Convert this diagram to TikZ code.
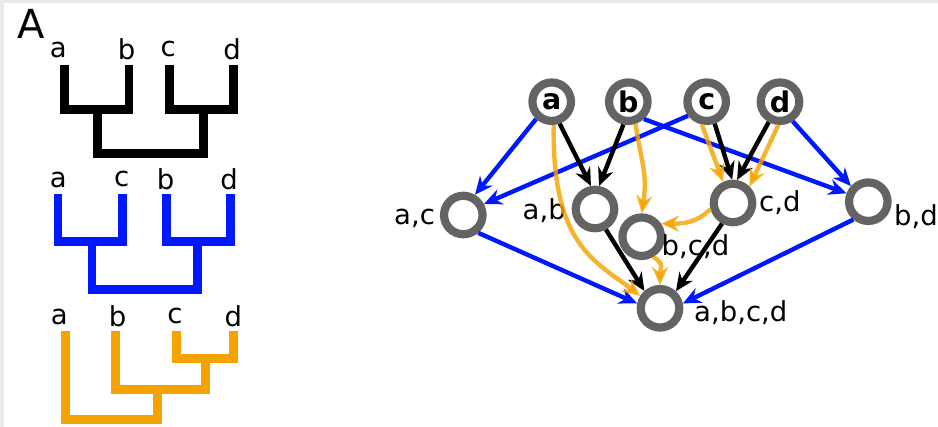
\documentclass[tikz,border=0pt]{standalone}
\usepackage{fontspec}
\setmainfont{DejaVu Sans}
\usetikzlibrary{arrows.meta}
\definecolor{myblue}{RGB}{0,24,255}
\definecolor{myorange}{RGB}{245,163,0}
\definecolor{ringgray}{RGB}{99,99,99}
\definecolor{framegray}{RGB}{233,235,239}
\begin{document}
\begin{tikzpicture}[x=1pt,y=-1pt,
  lbl/.style={font=\fontsize{27.5}{30}\selectfont, inner sep=0pt, anchor=base},
  tree/.style={line width=8.8pt, line join=miter, line cap=butt},
  vnode/.style={circle, draw=ringgray, line width=8.2pt, fill=white, minimum size=38.5pt, inner sep=0pt, font=\fontsize{28.5}{30}\selectfont\bfseries},
  edge/.style={line width=4.4pt, -{Stealth[length=18pt,width=16pt,inset=6pt]}},
  bl/.style={edge, draw=myblue},
  bk/.style={edge, draw=black},
  og/.style={edge, draw=myorange, opacity=0.82}]
\useasboundingbox (0,0) rectangle (938,427);
\fill[white] (0,0) rectangle (938,427);
\fill[framegray] (0,0) rectangle (938,3);
\fill[framegray] (0,0) rectangle (4,427);

% title
\node[font=\fontsize{40}{42}\selectfont, anchor=base west, inner sep=0pt] (title) at (17,38.3) {A};

% black dendrogram
\draw[tree, black] (64.2,65) -- (64.2,109.2) -- (129,109.2) -- (129,65);
\draw[tree, black] (169.2,65) -- (169.2,109.2) -- (233.7,109.2) -- (233.7,65);
\draw[tree, black] (97.5,109.2) -- (97.5,153.2) -- (203.3,153.2) -- (203.3,109.2);
\node[lbl] (k1) at (58.3,58) {a};
\node[lbl] (k2) at (126.7,60) {b};
\node[lbl] (k3) at (168.3,57) {c};
\node[lbl] (k4) at (232,60) {d};

% blue dendrogram
\draw[tree, myblue] (58,194.3) -- (58,241.5) -- (122.5,241.5) -- (122.5,194.3);
\draw[tree, myblue] (166.5,194.3) -- (166.5,241.5) -- (230.8,241.5) -- (230.8,194.3);
\draw[tree, myblue] (92,241.5) -- (92,289.2) -- (197.5,289.2) -- (197.5,241.5);
\node[lbl] (u1) at (58.3,187.3) {a};
\node[lbl] (u2) at (121.7,186.5) {c};
\node[lbl] (u3) at (165.7,189.3) {b};
\node[lbl] (u4) at (229,189.3) {d};

% orange dendrogram
\draw[tree, myorange] (176.5,331) -- (176.5,358.2) -- (233.8,358.2) -- (233.8,331);
\draw[tree, myorange] (115.5,331) -- (115.5,389.2) -- (205.8,389.2) -- (205.8,358.2);
\draw[tree, myorange] (65.8,331) -- (65.8,419.2) -- (157.5,419.2) -- (157.5,389.2);
\node[lbl] (o1) at (59.3,325) {a};
\node[lbl] (o2) at (117.5,326.7) {b};
\node[lbl] (o3) at (175,323.3) {c};
\node[lbl] (o4) at (233.3,326.7) {d};

% graph nodes
\node[vnode] (a) at (551.7,101.7) {a};
\node[vnode] (b) at (628.3,101.7) {b};
\node[vnode] (c) at (706.7,101.7) {c};
\node[vnode] (d) at (780,101.7) {d};
\node[vnode] (ac) at (463.3,215) {};
\node[vnode] (ab) at (595,209) {};
\node[vnode] (bcd) at (641.7,236.7) {};
\node[vnode] (cd) at (733,203) {};
\node[vnode] (bd) at (868.3,201.7) {};
\node[vnode] (abcd) at (660,308.3) {};

% graph labels
\node[lbl, anchor=base west] (lac) at (394,225) {a,c};
\node[lbl, anchor=base west] (lab) at (522.5,219.3) {a,b};
\node[lbl, anchor=base west] (lcd) at (759,211.7) {c,d};
\node[lbl, anchor=base west] (lbd) at (894,226) {b,d};
\node[lbl, anchor=base west] (lbcd) at (661.5,256) {b,c,d};
\node[lbl, anchor=base west] (labcd) at (694,321.7) {a,b,c,d};

% blue edges
\draw[bl] (a.228) -- (ac.60);
\draw[bl] (c.217) -- (ac.28);
\draw[bl] (b.-48) -- (bd.159);
\draw[bl] (d.-57) -- (bd.138);
\draw[bl] (ac.-50) -- (abcd.168);
\draw[bl] (bd.-130) -- (abcd.12);

% black edges
\draw[bk] (a.-70) -- (ab.100);
\draw[bk] (b.-102) -- (ab.80);
\draw[bk] (c.-70) -- (cd.92);
\draw[bk] (d.-119) -- (cd.80);
\draw[bk] (ab.-62) -- (abcd.132);
\draw[bk] (cd.-118) -- (abcd.47);

% orange edges
\draw[og] (a.-85) .. controls +(-2,120) and +(-45,-35) .. (abcd.148);
\draw[og] (b.-72) .. controls +(6,40) and +(6,-40) .. (bcd.90);
\draw[og] (c.-102) -- (cd.115);
\draw[og] (d.-94) -- (cd.45);
\draw[og] (cd.-165) .. controls +(-15,15) and +(20,0) .. (bcd.34);
\draw[og] (bcd.-60) .. controls +(12,8) and +(0,-18) .. (abcd.90);
\end{tikzpicture}
\end{document}
